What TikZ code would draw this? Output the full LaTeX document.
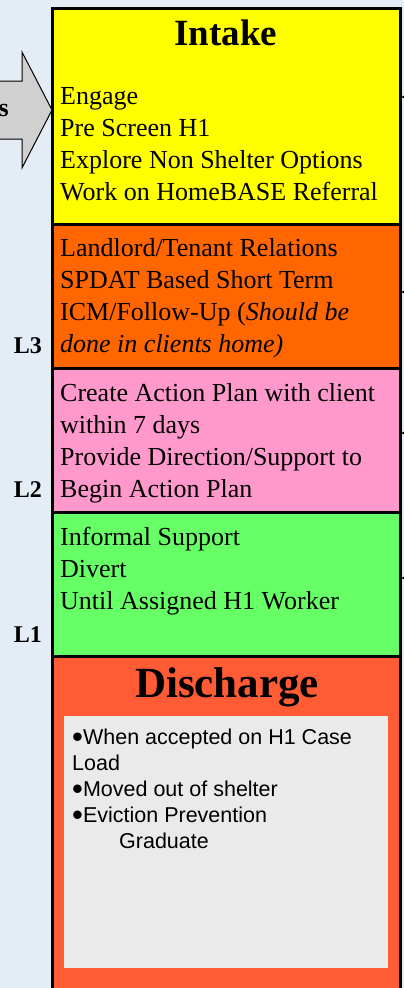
\documentclass[tikz,border=0pt]{standalone}
\usepackage{fontspec}
\setmainfont{Liberation Serif}
\setsansfont{Liberation Sans}
\usepackage{tikz}
\usetikzlibrary{shapes}
\usetikzlibrary{arrows}
\usetikzlibrary{positioning}
\definecolor{bgblue}{RGB}{228,236,246}
\definecolor{intakeyellow}{RGB}{255,255,0}
\definecolor{levelorange}{RGB}{255,102,0}
\definecolor{levelpink}{RGB}{255,153,204}
\definecolor{levelgreen}{RGB}{102,255,102}
\definecolor{dischargered}{RGB}{255,91,53}
\definecolor{notegray}{RGB}{234,234,234}
\definecolor{arrowgray}{RGB}{208,208,208}
\tikzstyle{band} = [rectangle, draw, line width=3pt, minimum width=348pt,
    inner sep=0pt, outer sep=0pt]
\tikzstyle{tasks} = [align=left, inner sep=0pt, anchor=base west,
    font=\fontsize{26}{32}\selectfont]
\tikzstyle{heading} = [inner sep=0pt, anchor=base]
\tikzstyle{level} = [inner sep=0pt, anchor=base east,
    font=\fontsize{24}{28}\selectfont\bfseries]
\tikzstyle{line} = [draw, line width=1pt, -latex']
\newcommand{\bigdot}{\raisebox{-3.5pt}[0pt][0pt]{\fontsize{31}{26}\selectfont•}}

\begin{document}
\begin{tikzpicture}[x=1pt, y=-1pt]
    \useasboundingbox (0,0) rectangle (404,988);
    \clip (0,0) rectangle (404,988);
    \fill [bgblue] (0,0) rectangle (404,988);
    % Place nodes
    \node [band, fill=intakeyellow, minimum height=216pt, anchor=north west] (intake) at (52,8) {};
    \node [band, fill=levelorange, minimum height=144pt, below=0pt of intake] (l3) {};
    \node [band, fill=levelpink, minimum height=144pt, below=0pt of l3] (l2) {};
    \node [band, fill=levelgreen, minimum height=144pt, below=0pt of l2] (l1) {};
    \node [band, fill=dischargered, minimum height=340pt, below=0pt of l1] (discharge) {};
    \node [fill=notegray, inner sep=0pt, minimum width=324pt, minimum height=252pt,
        anchor=north west] (notes) at (64,716) {};
    % referral arrow
    \filldraw [fill=arrowgray, draw=black, line width=1pt]
        (-10,81) -- (22,81) -- (22,52) -- (52,110) -- (22,168) -- (22,139) -- (-10,139) -- cycle;
    \node [level, font=\fontsize{26}{30}\selectfont\bfseries] (referral) at (9,116) {s};
    % titles
    \node [heading, font=\fontsize{37}{40}\selectfont\bfseries] (intaketitle) at (226,45) {Intake};
    \node [heading, font=\fontsize{43}{46}\selectfont\bfseries] (dischargetitle) at (227,697) {Discharge};
    % task lists (base = last line)
    \node [tasks] (intaketasks) at (60,200)
        {Engage\\Pre Screen H1\\Explore Non Shelter Options\\Work on HomeBASE Referral};
    \node [tasks] (l3tasks) at (60,352)
        {Landlord/Tenant Relations\\SPDAT Based Short Term\\ICM/Follow-Up (\textit{Should be}\\\textit{done in clients home)}};
    \node [tasks] (l2tasks) at (60,497)
        {Create Action Plan with client\\within 7 days\\Provide Direction/Support to\\Begin Action Plan};
    \node [tasks] (l1tasks) at (60,609)
        {Informal Support\\Divert\\Until Assigned H1 Worker};
    \node [align=left, inner sep=0pt, anchor=base west,
        font=\sffamily\fontsize{21.5}{26}\selectfont] (dischargelist) at (72,848)
        {\bigdot When accepted on H1 Case\\Load\\\bigdot Moved out of shelter\\\bigdot Eviction Prevention\\\hspace*{47pt}Graduate};
    % level labels
    \node [level] (l3label) at (42,353) {L3};
    \node [level] (l2label) at (42,497) {L2};
    \node [level] (l1label) at (42,642) {L1};
    % Draw edges
    \coordinate (in1) at (440,97);
    \coordinate (in2) at (440,292);
    \coordinate (in3) at (440,433);
    \coordinate (in4) at (440,578);
    \path [line] (in1) -- (intake.east |- in1);
    \path [line] (in2) -- (l3.east |- in2);
    \path [line] (in3) -- (l2.east |- in3);
    \path [line] (in4) -- (l1.east |- in4);
\end{tikzpicture}
\end{document}
